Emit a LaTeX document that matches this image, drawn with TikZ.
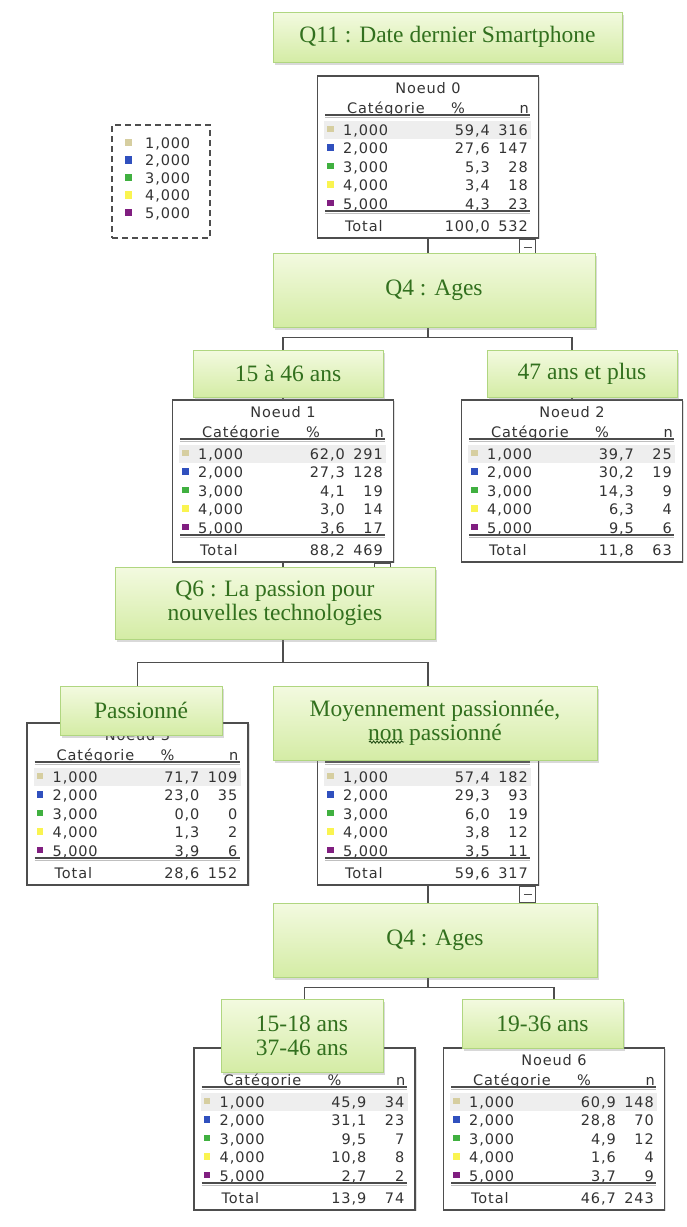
\documentclass[tikz,border=0pt]{standalone}
\usepackage{fontspec}
\setmainfont{Liberation Serif}
\newfontfamily\spss[LetterSpace=6]{DejaVu Sans}
\usetikzlibrary{positioning,calc,shadows,backgrounds,decorations.pathmorphing}

\definecolor{boxtxt}{RGB}{50,112,30}
\definecolor{boxtop}{RGB}{243,250,224}
\definecolor{boxbot}{RGB}{212,236,165}
\definecolor{boxline}{RGB}{176,214,128}
\definecolor{frame}{RGB}{78,78,78}
\definecolor{c1}{RGB}{214,206,160}
\definecolor{c2}{RGB}{48,80,190}
\definecolor{c3}{RGB}{64,176,64}
\definecolor{c4}{RGB}{250,244,80}
\definecolor{c5}{RGB}{128,30,128}

% one SPSS node table: name, x centre, y top, title, rows (%/n), total %, total n
\newcommand\noeud[7]{%
\node[tab] (#1) at (#2,#3) {};
\node[tt,anchor=base] (#1t) at (#2,#3+18) {#4};
\node[tt,anchor=base] (#1hc) at (#2-42,#3+38) {Catégorie};
\node[tt,anchor=base] (#1hp) at (#2+30,#3+38) {\%};
\node[tt,anchor=base east] (#1hn) at (#2+101,#3+38) {n};
\draw[line width=1.5,black!70] (#2-103,#3+40) -- (#2+102,#3+40);
\draw[line width=0.6,gray!50] (#2-103,#3+42.2) -- (#2+102,#3+42.2);
\fill[gray!13] (#2-104,#3+46) rectangle (#2+103,#3+64);
\foreach \p/\n [count=\j] in {#5} {
  \fill[c\j] (#2-101,#3+32+18.5*\j) rectangle ++(6.5,6.5);
  \node[tt,anchor=base west] (#1l\j) at (#2-85,#3+41.5+18.5*\j) {\j,000};
  \node[tt,anchor=base east] (#1p\j) at (#2+62,#3+41.5+18.5*\j) {\p};
  \node[tt,anchor=base east] (#1n\j) at (#2+100,#3+41.5+18.5*\j) {\n};
}
\draw[line width=1.5,black!70] (#2-103,#3+136) -- (#2+102,#3+136);
\draw[line width=0.6,gray!50] (#2-103,#3+138.2) -- (#2+102,#3+138.2);
\node[tt,anchor=base west] (#1tl) at (#2-83,#3+156) {Total};
\node[tt,anchor=base east] (#1tp) at (#2+62,#3+156) {#6};
\node[tt,anchor=base east] (#1tn) at (#2+100,#3+156) {#7};
}

\begin{document}
\begin{tikzpicture}[x=1pt,y=-1pt]
\tikzstyle{q}=[draw=boxline,line width=1,top color=boxtop,bottom color=boxbot,text=boxtxt,inner sep=0,
  font=\fontsize{23.5}{24}\selectfont,align=center,drop shadow={shadow xshift=2pt,shadow yshift=-2.5pt,opacity=0.3}]
\tikzstyle{tab}=[draw=frame,line width=1.6,fill=white,minimum width=221,minimum height=162,anchor=north,inner sep=0,
  drop shadow={shadow xshift=1.5pt,shadow yshift=-1.5pt,opacity=0.25}]
\tikzstyle{tt}=[font=\spss\fontsize{14.5}{16}\selectfont,text=black!80,inner sep=0]
\tikzstyle{ln}=[draw=frame,line width=1.5]
\tikzstyle{mb}=[draw=frame,line width=1,fill=white,minimum size=16,inner sep=0,anchor=north east]
\useasboundingbox (0,0) rectangle (686,1227);

% legend
\node[draw=frame,dash pattern=on 6pt off 4pt,line width=1.2,minimum width=98,minimum height=113] (leg) at (161,181.5) {};
\foreach \j in {1,...,5} {
  \fill[c\j] (124.5,121+17.5*\j) rectangle ++(7.5,7.5);
  \node[tt,anchor=base west] (leg\j) at (145,130.5+17.5*\j) {\j,000};
}

% tables
\noeud{n0}{428}{75}{Noeud 0}{{59,4}/316,{27,6}/147,{5,3}/28,{3,4}/18,{4,3}/23}{100,0}{532}
\noeud{n1}{283}{399}{Noeud 1}{{62,0}/291,{27,3}/128,{4,1}/19,{3,0}/14,{3,6}/17}{88,2}{469}
\noeud{n2}{572}{399}{Noeud 2}{{39,7}/25,{30,2}/19,{14,3}/9,{6,3}/4,{9,5}/6}{11,8}{63}
\noeud{n3}{137.5}{722}{Noeud 3}{{71,7}/109,{23,0}/35,{0,0}/0,{1,3}/2,{3,9}/6}{28,6}{152}
\noeud{n4}{428}{722}{Noeud 4}{{57,4}/182,{29,3}/93,{6,0}/19,{3,8}/12,{3,5}/11}{59,6}{317}
\noeud{n5}{304.5}{1047}{Noeud 5}{{45,9}/34,{31,1}/23,{9,5}/7,{10,8}/8,{2,7}/2}{13,9}{74}
\noeud{n6}{554}{1047}{Noeud 6}{{60,9}/148,{28,8}/70,{4,9}/12,{1,6}/4,{3,7}/9}{46,7}{243}

% collapse boxes
\foreach \t in {n0,n1,n4} {
  \node[mb] (m\t) at ($(\t.south east)+(-3,0)$) {};
  \draw[frame,line width=1] ($(m\t.center)+(-4,0)$) -- ++(8,0);
}

% question and split boxes
\node[q,minimum width=349,minimum height=50] (q11) at (447.5,37) {Q11 : Date dernier Smartphone};
\node[q,minimum width=322,minimum height=74] (q4a) at (434,290) {Q4 : Ages};
\node[q,minimum width=190,minimum height=47] (b1) at (288,373.5) {15 à 46 ans};
\node[q,minimum width=190,minimum height=47] (b2) at (582,373.5) {47 ans et plus};
\node[q,minimum width=320,minimum height=72] (q6) at (275,603) {Q6 : La passion pour\\nouvelles technologies};
\node[q,minimum width=162,minimum height=49] (b3) at (141,710.5) {Passionné};
\node[q,minimum width=324,minimum height=74] (b4) at (435,723) {Moyennement passionnée,\\non passionné};
\node[q,minimum width=324,minimum height=74] (q4b) at (435,940) {Q4 : Ages};
\node[q,minimum width=162,minimum height=73] (b5) at (302,1035.5) {15-18 ans\\37-46 ans};
\node[q,minimum width=161,minimum height=49] (b6) at (542.5,1023.5) {19-36 ans};

% spell-check squiggle under "non"
\draw[boxtxt!70!black,line width=0.9,decorate,decoration={snake,amplitude=1.1pt,segment length=3.5pt}]
  ($(b4.center)+(-66,19)$) -- ($(b4.center)+(-31,19)$);

% tree lines
\begin{scope}[on background layer]
\draw[ln] (n0.south) -- (n0.south |- q4a.north);
\draw[ln] (n0.south |- q4a.south) -- ++(0,10) -| (n1.north);
\draw[ln] (n0.south |- q4a.south) -- ++(0,10) -| (n2.north);
\draw[ln] (n1.south) -- (n1.south |- q6.north);
\draw[ln] (n1.south |- q6.south) -- ++(0,23) -| (n3.north);
\draw[ln] (n1.south |- q6.south) -- ++(0,23) -| (n4.north);
\draw[ln] (n4.south) -- (n4.south |- q4b.north);
\draw[ln] (n4.south |- q4b.south) -- ++(0,10) -| (n5.north);
\draw[ln] (n4.south |- q4b.south) -- ++(0,10) -| (n6.north);
\end{scope}
\end{tikzpicture}
\end{document}
